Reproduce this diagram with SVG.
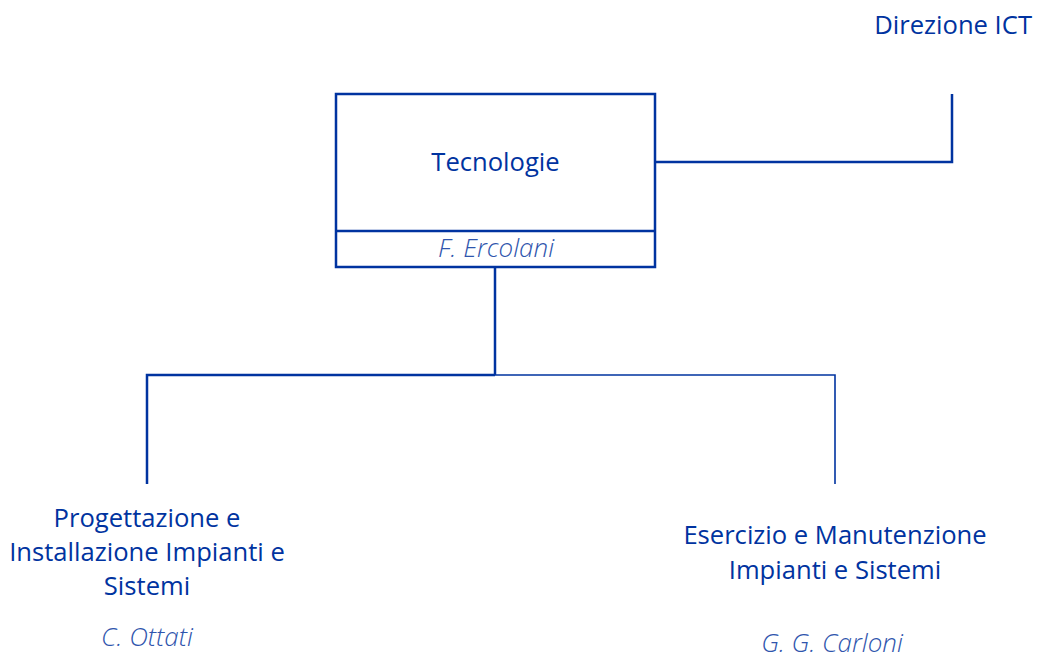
<svg xmlns="http://www.w3.org/2000/svg" width="1037" height="664" viewBox="0 0 1037 664">
<style>
.t{font-family:"Open Sans","DejaVu Sans",sans-serif;font-size:25.6px;fill:#0033a0;text-anchor:middle}
.n{font-family:"Open Sans","DejaVu Sans",sans-serif;font-size:26px;font-style:italic;font-weight:300;fill:#2f55ad;text-anchor:middle}
.c{fill:none;stroke:#0033a0;stroke-width:2.5}
.c2{fill:none;stroke:#0033a0;stroke-width:1.6}
</style>
<rect width="1037" height="664" fill="#fff"/>
<g id="connectors">
<polyline class="c" points="655,162 952,162 952,94"/>
<polyline class="c" points="495,267 495,375"/>
<polyline class="c" points="147,484 147,375 495,375"/>
<polyline class="c2" points="495,375 835,375 835,484"/>
</g>
<g id="direzione">
<text class="t" x="1032" y="34" style="text-anchor:end">Direzione ICT</text>
</g>
<g id="tecnologie">
<rect x="336" y="94" width="319" height="173" class="c" fill="#fff"/>
<line x1="336" y1="231" x2="655" y2="231" class="c"/>
<text class="t" x="495.5" y="171">Tecnologie</text>
<text class="n" x="496" y="257">F. Ercolani</text>
</g>
<g id="progettazione">
<text class="t" x="147" y="527">Progettazione e</text>
<text class="t" x="147" y="561">Installazione Impianti e</text>
<text class="t" x="147" y="595">Sistemi</text>
<text class="n" x="147" y="646">C. Ottati</text>
</g>
<g id="esercizio">
<text class="t" x="835" y="544">Esercizio e Manutenzione</text>
<text class="t" x="835" y="579">Impianti e Sistemi</text>
<text class="n" x="832" y="652">G. G. Carloni</text>
</g>
</svg>
